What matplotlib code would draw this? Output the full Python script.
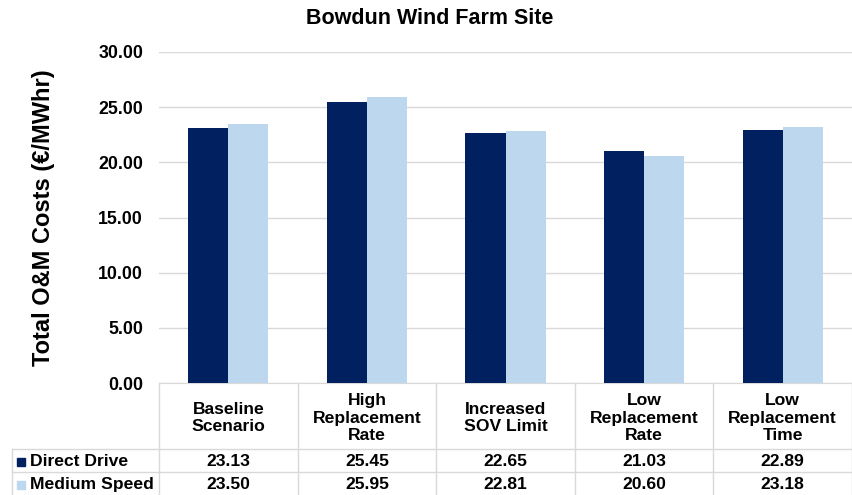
import numpy as np
import matplotlib.pyplot as plt
from matplotlib.lines import Line2D
from matplotlib.patches import Rectangle

plt.rcParams['font.family'] = ['Liberation Sans', 'DejaVu Sans']
plt.rcParams['font.weight'] = 'bold'

categories = ['Baseline\nScenario', 'High\nReplacement\nRate', 'Increased\nSOV Limit',
              'Low\nReplacement\nRate', 'Low\nReplacement\nTime']
series_names = ['Direct Drive', 'Medium Speed']
direct_drive = [23.13, 25.45, 22.65, 21.03, 22.89]
medium_speed = [23.50, 25.95, 22.81, 20.60, 23.18]
yticks = [0, 5, 10, 15, 20, 25, 30]

colors = ['#002060', '#BDD7EE']
grid_col = '#D9D9D9'

W, H = 852, 495
fig = plt.figure(figsize=(W / 100, H / 100), dpi=100)

# plot area in pixels
left, right, top, bottom = 159, 852, 52, 383
ax = fig.add_axes([left / W, 1 - bottom / H, (right - left) / W, (bottom - top) / H])

x = np.arange(len(categories))
bw = 0.29
ax.bar(x - bw / 2, direct_drive, bw, color=colors[0], zorder=3)
ax.bar(x + bw / 2, medium_speed, bw, color=colors[1], zorder=3)

ax.set_xlim(-0.5, len(categories) - 0.5)
ax.set_ylim(0, 30)
ax.set_yticks(yticks)
ax.set_yticklabels([f'{v:.2f}' for v in yticks], fontsize=12.8, fontweight='bold')
ax.tick_params(axis='y', length=0, pad=11.5)
ax.set_xticks([])
ax.yaxis.grid(True, color=grid_col, lw=1, zorder=0)
for s in ['top', 'right', 'left']:
    ax.spines[s].set_visible(False)
ax.spines['bottom'].set_color(grid_col)
ax.set_ylabel('Total O&M Costs (€/MWhr)', fontsize=17, fontweight='bold')
ax.yaxis.set_label_coords((55 - left) / (right - left), 0.5)

fig.text(430 / W, 1 - 18 / H, 'Bowdun Wind Farm Site', ha='center', va='center',
         fontsize=15.5, fontweight='bold')

# data table below the axes
def fy(py):
    return 1 - py / H

def fx(px):
    return px / W

row1, row2 = 449, 472
col_edges = np.linspace(left, right, len(categories) + 1)
for cx in col_edges:
    fig.add_artist(Line2D([fx(cx), fx(cx)], [fy(bottom), fy(H)], color=grid_col, lw=1))
fig.add_artist(Line2D([fx(12), fx(12)], [fy(row1), fy(H)], color=grid_col, lw=1))
for ry in [row1, row2]:
    fig.add_artist(Line2D([fx(12), fx(right)], [fy(ry), fy(ry)], color=grid_col, lw=1))

centers = (col_edges[:-1] + col_edges[1:]) / 2
for cx, lab in zip(centers, categories):
    fig.text(fx(cx), fy(418), lab, ha='center', va='center',
             fontsize=12.6, fontweight='bold', linespacing=1.2)

for ry0, ry1, name, vals, c in [(row1, row2, series_names[0], direct_drive, colors[0]),
                                (row2, H, series_names[1], medium_speed, colors[1])]:
    yc = (ry0 + ry1) / 2 + 1
    fig.add_artist(Rectangle((fx(17), fy(yc + 4)), 8 / W, 8 / H, color=c,
                             transform=fig.transFigure))
    fig.text(fx(30), fy(yc), name, ha='left', va='center', fontsize=12.6, fontweight='bold')
    for cx, v in zip(centers, vals):
        fig.text(fx(cx), fy(yc), f'{v:.2f}', ha='center', va='center',
                 fontsize=12.6, fontweight='bold')

fig.savefig('out.png', dpi=100)
